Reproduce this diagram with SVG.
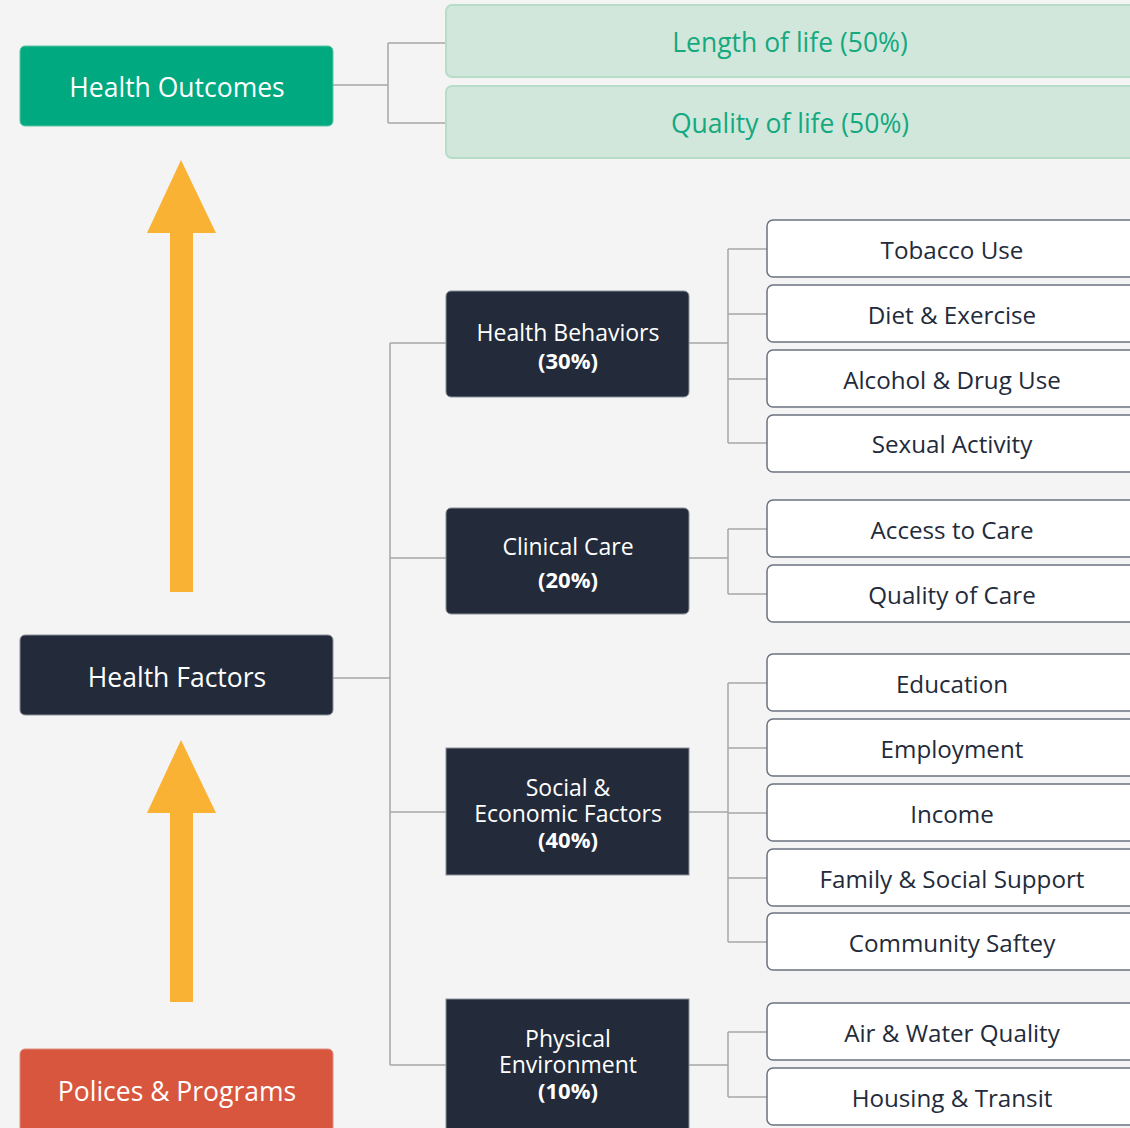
<svg xmlns="http://www.w3.org/2000/svg" width="1130" height="1128" viewBox="0 0 1130 1128">
  <style>
    text { font-family: "Open Sans", "Noto Sans", "Liberation Sans", sans-serif; text-anchor: middle; dominant-baseline: central; }
    .main { font-size: 26.5px; fill: #ffffff; }
    .pct { font-size: 26.5px; fill: #14a97f; }
    .cat { font-size: 23px; fill: #ffffff; }
    .bold { font-weight: 700; font-size: 22px; }
    .leaf { font-size: 24.2px; fill: #232b3b; }
    .green { fill: #00a97f; stroke: #5cc7a4; stroke-width: 1; }
    .dark { fill: #232b3b; stroke: #8a8f99; stroke-width: 1; }
    .red { fill: #d9563e; stroke: #e08c7c; stroke-width: 1; }
    .pale { fill: #d1e7dc; stroke: #b7dcc8; stroke-width: 2; }
    .leafbox { fill: #ffffff; stroke: #6b7280; stroke-width: 1.5; }
    .link { fill: none; stroke: #a6a6a6; stroke-width: 1.5; }
    .arrow { fill: #f9b233; }
  </style>

  <rect width="1130" height="1128" fill="#f4f4f4"/>

  <!-- connectors -->
  <g id="connectors">
    <path class="link" d="M333 85 H388 M388 43 V123 M388 43 H445 M388 123 H445"/>
    <path class="link" d="M333 678 H390 M390 343 V1065 M390 343 H446 M390 558 H446 M390 812 H446 M390 1065 H446"/>
    <path class="link" d="M689 343 H728 M728 249 V443 M728 249 H767 M728 314 H767 M728 379 H767 M728 443 H767"/>
    <path class="link" d="M689 558 H728 M728 529 V594 M728 529 H767 M728 594 H767"/>
    <path class="link" d="M689 812 H728 M728 683 V942 M728 683 H767 M728 748 H767 M728 813 H767 M728 878 H767 M728 942 H767"/>
    <path class="link" d="M689 1065 H728 M728 1032 V1097 M728 1032 H767 M728 1097 H767"/>
  </g>

  <!-- upward arrows -->
  <g id="arrow-outcomes">
    <polygon class="arrow" points="181,160 216,233 193,233 193,592 170,592 170,233 147,233"/>
  </g>
  <g id="arrow-factors">
    <polygon class="arrow" points="181,740 216,813 193,813 193,1002 170,1002 170,813 147,813"/>
  </g>

  <!-- top-level nodes -->
  <g id="health-outcomes">
    <rect class="green" x="20" y="46" width="313" height="80" rx="5"/>
    <text class="main" x="177" y="87">Health Outcomes</text>
  </g>
  <g id="health-factors">
    <rect class="dark" x="20" y="635" width="313" height="80" rx="5"/>
    <text class="main" x="177" y="677">Health Factors</text>
  </g>
  <g id="policies-programs">
    <rect class="red" x="20" y="1049" width="313" height="90" rx="5"/>
    <text class="main" x="177" y="1091">Polices &amp; Programs</text>
  </g>

  <!-- outcome components -->
  <g id="length-of-life">
    <rect class="pale" x="446" y="5" width="700" height="72" rx="6"/>
    <text class="pct" x="790" y="42">Length of life (50%)</text>
  </g>
  <g id="quality-of-life">
    <rect class="pale" x="446" y="86" width="700" height="72" rx="6"/>
    <text class="pct" x="790" y="123">Quality of life (50%)</text>
  </g>

  <!-- factor categories -->
  <g id="health-behaviors">
    <rect class="dark" x="446" y="291" width="243" height="106" rx="5"/>
    <text class="cat" x="568" y="332">Health Behaviors</text>
    <text class="cat bold" x="568" y="360">(30%)</text>
  </g>
  <g id="clinical-care">
    <rect class="dark" x="446" y="508" width="243" height="106" rx="5"/>
    <text class="cat" x="568" y="546">Clinical Care</text>
    <text class="cat bold" x="568" y="579">(20%)</text>
  </g>
  <g id="social-economic">
    <rect class="dark" x="446" y="748" width="243" height="127"/>
    <text class="cat" x="568" y="787">Social &amp;</text>
    <text class="cat" x="568" y="813">Economic Factors</text>
    <text class="cat bold" x="568" y="839">(40%)</text>
  </g>
  <g id="physical-environment">
    <rect class="dark" x="446" y="999" width="243" height="140"/>
    <text class="cat" x="568" y="1038">Physical</text>
    <text class="cat" x="568" y="1064">Environment</text>
    <text class="cat bold" x="568" y="1090">(10%)</text>
  </g>

  <!-- leaf factors -->
  <g id="tobacco-use"><rect class="leafbox" x="767" y="220" width="380" height="57" rx="6"/><text class="leaf" x="952" y="249">Tobacco Use</text></g>
  <g id="diet-exercise"><rect class="leafbox" x="767" y="285" width="380" height="57" rx="6"/><text class="leaf" x="952" y="314">Diet &amp; Exercise</text></g>
  <g id="alcohol-drug"><rect class="leafbox" x="767" y="350" width="380" height="57" rx="6"/><text class="leaf" x="952" y="379">Alcohol &amp; Drug Use</text></g>
  <g id="sexual-activity"><rect class="leafbox" x="767" y="415" width="380" height="57" rx="6"/><text class="leaf" x="952" y="443">Sexual Activity</text></g>
  <g id="access-care"><rect class="leafbox" x="767" y="500" width="380" height="57" rx="6"/><text class="leaf" x="952" y="529">Access to Care</text></g>
  <g id="quality-care"><rect class="leafbox" x="767" y="565" width="380" height="57" rx="6"/><text class="leaf" x="952" y="594">Quality of Care</text></g>
  <g id="education"><rect class="leafbox" x="767" y="654" width="380" height="57" rx="6"/><text class="leaf" x="952" y="683">Education</text></g>
  <g id="employment"><rect class="leafbox" x="767" y="719" width="380" height="57" rx="6"/><text class="leaf" x="952" y="748">Employment</text></g>
  <g id="income"><rect class="leafbox" x="767" y="784" width="380" height="57" rx="6"/><text class="leaf" x="952" y="813">Income</text></g>
  <g id="family-support"><rect class="leafbox" x="767" y="849" width="380" height="57" rx="6"/><text class="leaf" x="952" y="878">Family &amp; Social Support</text></g>
  <g id="community-safety"><rect class="leafbox" x="767" y="913" width="380" height="57" rx="6"/><text class="leaf" x="952" y="942">Community Saftey</text></g>
  <g id="air-water"><rect class="leafbox" x="767" y="1003" width="380" height="57" rx="6"/><text class="leaf" x="952" y="1032">Air &amp; Water Quality</text></g>
  <g id="housing-transit"><rect class="leafbox" x="767" y="1068" width="380" height="57" rx="6"/><text class="leaf" x="952" y="1097">Housing &amp; Transit</text></g>
</svg>
